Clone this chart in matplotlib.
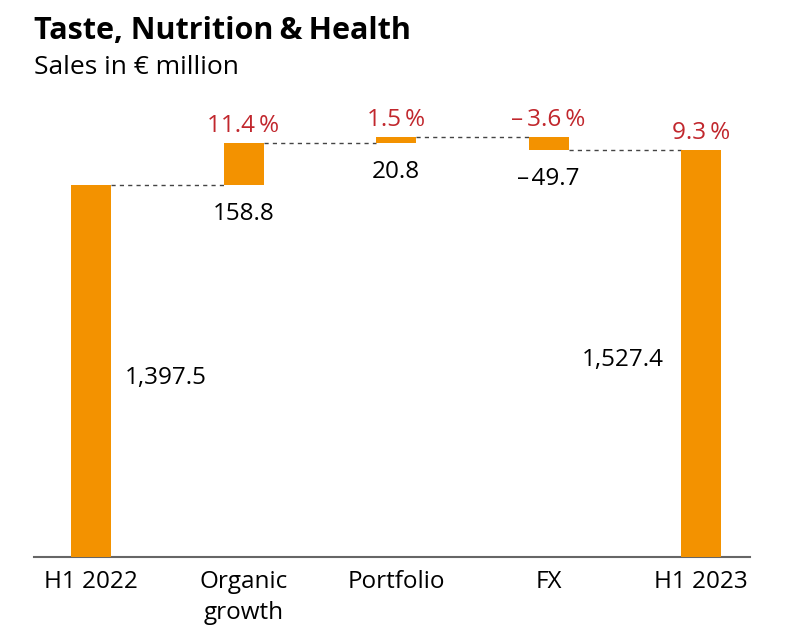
import matplotlib
matplotlib.use("Agg")
import matplotlib.pyplot as plt

categories = ["H1 2022", "Organic\ngrowth", "Portfolio", "FX", "H1 2023"]
start_value = 1397.5
deltas = [158.8, 20.8, -49.7]
end_value = 1527.4
value_labels = ["1,397.5", "158.8", "20.8", "\u2013\u200a49.7", "1,527.4"]
pct_labels = ["11.4\u2009%", "1.5\u2009%", "\u2013\u20093.6\u2009%", "9.3\u2009%"]

ORANGE = "#F39200"
RED = "#C1272D"
plt.rcParams['font.family'] = ['Open Sans', 'DejaVu Sans']

W, H = 797, 638
fig = plt.figure(figsize=(W / 100, H / 100), dpi=100)
ax = fig.add_axes([34 / W, (H - 557) / H, (750 - 34) / W, (557 - 100) / H])
ax.set_xlim(-0.374, 4.321)
ax.set_ylim(0, 457 / 0.2662)
bw = 0.262

# bars
bottoms = [0]
heights = [start_value]
running = start_value
for d in deltas:
    if d >= 0:
        bottoms.append(running)
        heights.append(d)
    else:
        bottoms.append(running + d)
        heights.append(-d)
    running += d
bottoms.append(0)
heights.append(end_value)
xs = list(range(len(categories)))
ax.bar(xs, heights, bottom=bottoms, width=bw, color=ORANGE, zorder=3)

# connector lines
levels = [start_value]
r = start_value
for d in deltas:
    r += d
    levels.append(r)
for i, lv in enumerate(levels):
    ax.plot([i + bw / 2, i + 1 - bw / 2], [lv, lv], color="#444444",
            lw=1.0, ls=(0, (3, 3)), zorder=2)

# value labels
fs = 17.5
ax.annotate(value_labels[0], (0 + bw / 2, start_value / 2), xytext=(14, -7),
            textcoords="offset pixels", ha="left", va="center", fontsize=fs)
ax.annotate(value_labels[4], (4 - bw / 2, end_value / 2), xytext=(-17, -6),
            textcoords="offset pixels", ha="right", va="center", fontsize=fs)
for i in range(1, 4):
    b = bottoms[i]
    ax.annotate(value_labels[i], (i, b), xytext=(0, -29),
                textcoords="offset pixels", ha="center", va="center", fontsize=fs)
for i in range(1, 5):
    top = bottoms[i] + heights[i]
    ax.annotate(pct_labels[i - 1], (i, top), xytext=(0, 17),
                textcoords="offset pixels", ha="center", va="center",
                fontsize=fs, color=RED)

for s in ["top", "right", "left"]:
    ax.spines[s].set_visible(False)
ax.spines["bottom"].set_color("#666666")
ax.spines["bottom"].set_linewidth(1.5)
ax.set_yticks([])
ax.set_xticks(xs)
ax.set_xticklabels(categories, fontsize=fs, linespacing=1.4)
ax.tick_params(axis="x", length=0, pad=9)

fig.text(34 / W, 1 - 31 / H, "Taste, Nutrition\u2009&\u2009Health", fontsize=22,
         fontweight="bold", ha="left", va="center")
fig.text(34 / W, 1 - 67 / H, "Sales in \u20ac million", fontsize=19,
         ha="left", va="center")

fig.savefig("out.png", dpi=100)
